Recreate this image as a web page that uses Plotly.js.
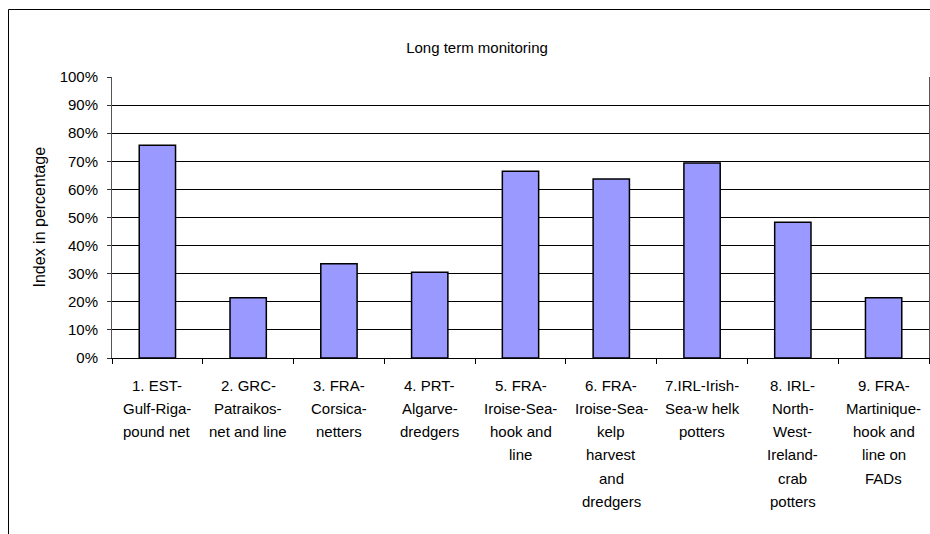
<!DOCTYPE html>
<html>
<head>
<meta charset="utf-8">
<script src="https://cdn.plot.ly/plotly-3.0.1.min.js"></script>
<style>html,body{margin:0;padding:0;background:#fff;}#chart{width:930px;height:534px;}</style>
</head>
<body>
<div id="chart"></div>
<script>
// ---- data ----
const chartTitle = "Long term monitoring";
const yTitle = "Index in percentage";
const categories = [
  "1. EST-<br>Gulf-Riga-<br>pound net",
  "2. GRC-<br>Patraikos-<br>net and line",
  "3. FRA-<br>Corsica-<br>netters",
  "4. PRT-<br>Algarve-<br>dredgers",
  "5. FRA-<br>Iroise-Sea-<br>hook and<br>line",
  "6. FRA-<br>Iroise-Sea-<br>kelp<br>harvest<br>and<br>dredgers",
  "7.IRL-Irish-<br>Sea-w helk<br>potters",
  "8. IRL-<br>North-<br>West-<br>Ireland-<br>crab<br>potters",
  "9. FRA-<br>Martinique-<br>hook and<br>line on<br>FADs"
];
const values = [0.757, 0.214, 0.335, 0.305, 0.665, 0.637, 0.694, 0.483, 0.214];
const yTickVals = [0, 0.1, 0.2, 0.3, 0.4, 0.5, 0.6, 0.7, 0.8, 0.9, 1.0];
const yTickText = ["0%", "10%", "20%", "30%", "40%", "50%", "60%", "70%", "80%", "90%", "100%"];

// ---- layout helpers ----
const W = 930, H = 534;
const plotL = 112, plotR = 929, plotT = 77, plotB = 358;
const pw = plotR - plotL, ph = plotB - plotT;
const px2x = p => (p - plotL) / pw;
const py2y = p => 1 - (p - plotT) / ph;
const font = "Liberation Sans, Arial, sans-serif";

const annotations = [];
categories.forEach(cat => {
  cat.split("<br>").forEach((line, i) => {
    annotations.push({
      x: cat, xref: "x", y: 0, yref: "paper",
      text: line, showarrow: false,
      xanchor: "center", yanchor: "middle",
      yshift: -(27 + i * 23.3),
      font: {family: font, size: 15, color: "#000"}
    });
  });
});
annotations.push({
  x: px2x(39), xref: "paper", y: 0.5, yref: "paper",
  text: yTitle, textangle: -90, showarrow: false,
  xanchor: "center", yanchor: "middle",
  font: {family: font, size: 16, color: "#000"}
});

const trace = {
  type: "bar",
  x: categories,
  y: values,
  marker: {color: "#9999FF", line: {color: "#000", width: 1.5}},
  hoverinfo: "none"
};

const layout = {
  width: W, height: H,
  margin: {l: plotL, r: W - plotR, t: plotT, b: H - plotB, pad: 0},
  paper_bgcolor: "#fff", plot_bgcolor: "#fff",
  showlegend: false,
  bargap: 0.6,
  font: {family: font, size: 15, color: "#000"},
  title: {
    text: chartTitle,
    font: {family: font, size: 15, color: "#000"},
    x: 477 / W, xref: "container", xanchor: "center",
    y: 1 - 48 / H, yref: "container", yanchor: "middle"
  },
  xaxis: {
    type: "category",
    showticklabels: false,
    ticks: "outside", tickson: "boundaries", ticklen: 5, tickcolor: "#000", tickwidth: 1,
    showline: true, linecolor: "#000", linewidth: 1,
    showgrid: false, zeroline: false, fixedrange: true
  },
  yaxis: {
    range: [0, 1],
    tickvals: yTickVals, ticktext: yTickText,
    ticks: "outside", ticklen: 4, tickcolor: "#333", tickwidth: 1,
    ticklabelstandoff: 6,
    tickfont: {family: font, size: 15, color: "#000"},
    showline: true, linecolor: "#555", linewidth: 1, mirror: true,
    showgrid: true, gridcolor: "#000", gridwidth: 1,
    zeroline: false, fixedrange: true
  },
  annotations: annotations,
  shapes: [{
    type: "rect", xref: "paper", yref: "paper",
    x0: px2x(8.5), x1: px2x(960), y0: py2y(560), y1: py2y(9.5),
    line: {color: "#000", width: 1}, fillcolor: "rgba(0,0,0,0)", layer: "below"
  }]
};

Plotly.newPlot("chart", [trace], layout, {staticPlot: true, displayModeBar: false});
</script>
</body>
</html>
